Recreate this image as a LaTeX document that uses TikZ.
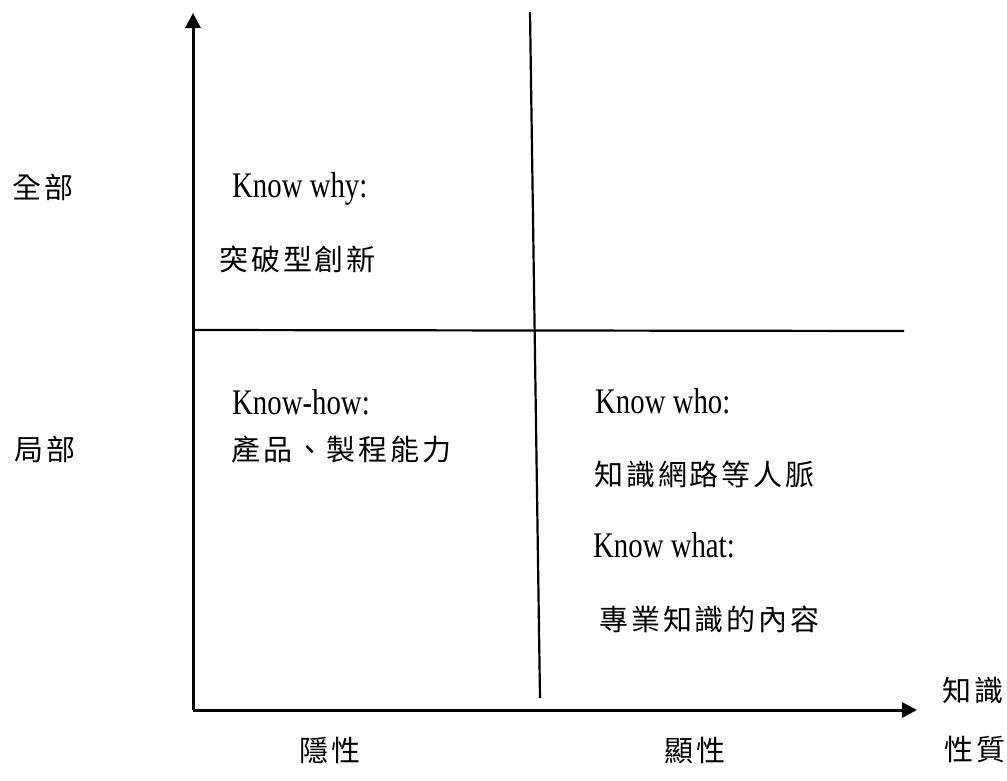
\documentclass[tikz,border=0pt]{standalone}
\usepackage{fontspec}
\setmainfont{Liberation Serif}
\newfontfamily\cjk[LetterSpace=10]{Noto Sans CJK TC}
\newfontfamily\lat[FakeStretch=0.8]{Liberation Serif}
\usetikzlibrary{arrows.meta}
\begin{document}
\begin{tikzpicture}[x=1pt,y=-1pt,
  axisline/.style={line width=3pt,-{Triangle[length=15pt,width=15pt]}},
  divline/.style={line width=2.2pt},
  cjklabel/.style={anchor=west,inner sep=0pt,font=\cjk\fontsize{29}{29}\selectfont},
  latlabel/.style={anchor=base west,inner sep=0pt,font=\lat\fontsize{36}{36}\selectfont}]
\useasboundingbox (0,0) rectangle (1007,780);
% axes
\coordinate (O) at (193,710);
\coordinate (ytip) at (193,13);
\coordinate (xtip) at (917,710);
\draw[axisline] (O) -- (ytip);
\draw[axisline] (O) -- (xtip);
% dividers
\coordinate (vtop) at (530,12);
\coordinate (vbot) at (540,698);
\coordinate (hleft) at (193,330);
\coordinate (hright) at (904,331);
\draw[divline] (vtop) -- (vbot);
\draw[divline] (hleft) -- (hright);
% axis labels
\node[cjklabel] (all) at (12,187) {全部};
\node[cjklabel] (part) at (14,449) {局部};
\node[cjklabel] (tacit) at (299,750) {隱性};
\node[cjklabel] (explicit) at (664,750) {顯性};
\node[cjklabel] (kn1) at (942,690) {知識};
\node[cjklabel] (kn2) at (944,750) {性質};
% quadrant texts
\node[latlabel] (why) at (232,197) {Know why:};
\node[cjklabel] (whyc) at (219,259) {突破型創新};
\node[latlabel] (how) at (232,414) {Know-how:};
\node[cjklabel] (howc) at (231,449) {產品、製程能力};
\node[latlabel] (who) at (595,413) {Know who:};
\node[cjklabel] (whoc) at (594,474) {知識網路等人脈};
\node[latlabel] (what) at (593,557) {Know what:};
\node[cjklabel] (whatc) at (599,619) {專業知識的內容};
\end{tikzpicture}
\end{document}
